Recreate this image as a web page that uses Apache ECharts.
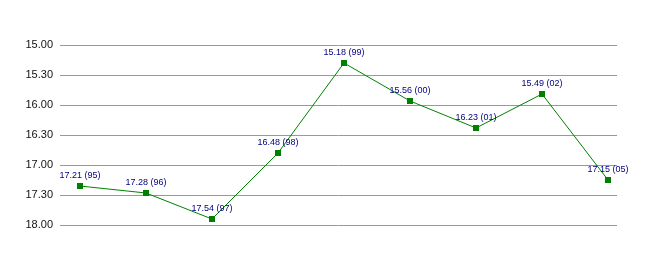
<!DOCTYPE html>
<html><head><meta charset="utf-8">
<script src="https://cdn.jsdelivr.net/npm/echarts@6/dist/echarts.min.js"></script>
<style>html,body{margin:0;padding:0;background:#fff}#c{width:656px;height:255px}</style>
</head><body><div id="c"></div>
<script>
// Times in minutes (decimal), shown as m.ss
var years = ['95','96','97','98','99','00','01','02','05'];
var timeLabels = ['17.21','17.28','17.54','16.48','15.18','15.56','16.23','15.49','17.15'];
var values = [17.35, 17.4667, 17.9, 16.8, 15.3, 15.9333, 16.3833, 15.8167, 17.25];
var yTicks = ['15.00','15.30','16.00','16.30','17.00','17.30','18.00'];

var data = values.map(function(v,i){return [i, v];});
var font = "'Liberation Sans', Arial, sans-serif";
var chart = echarts.init(document.getElementById('c'));
chart.setOption({
  animation:false,
  grid:{left:60,right:39,top:45,bottom:30,containLabel:false},
  xAxis:{type:'value',min:-0.303,max:8.136,show:false,splitLine:{show:false}},
  yAxis:{type:'value',inverse:true,min:15,max:18,interval:0.5,
    axisLine:{show:false},axisTick:{show:false},
    axisLabel:{margin:7,color:'#111',fontSize:11,fontFamily:font,
      formatter:function(v){return yTicks[Math.round((v-15)/0.5)];}},
    splitLine:{lineStyle:{color:'#999',width:1}}},
  series:[{type:'line',data:data,symbol:'rect',symbolSize:6,
    lineStyle:{color:'#008000',width:1},itemStyle:{color:'#008000'},
    label:{show:true,position:'top',distance:3,color:'#000080',fontSize:9,fontFamily:font,
      formatter:function(p){return timeLabels[p.dataIndex]+' ('+years[p.dataIndex]+')';}}}]
});
</script></body></html>
